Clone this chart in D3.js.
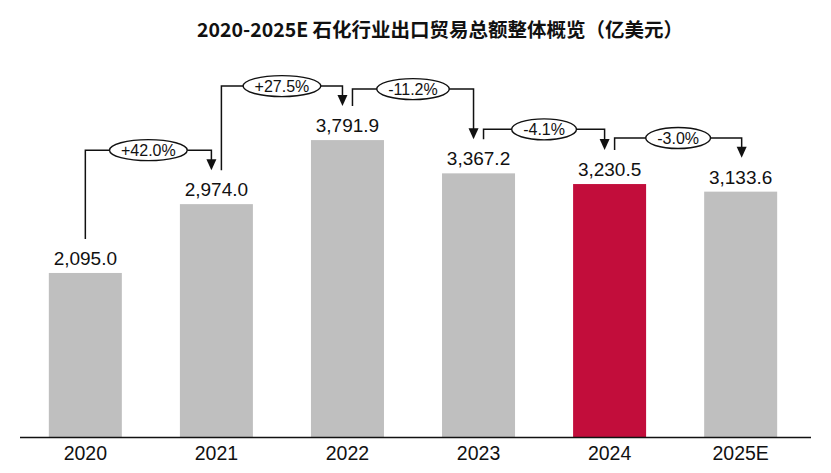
<!DOCTYPE html>
<html>
<head>
<meta charset="utf-8">
<script src="https://cdn.jsdelivr.net/npm/d3@7"></script>
<style>
  html, body { margin: 0; padding: 0; background: #ffffff; }
  svg { display: block; }
</style>
</head>
<body>
<div id="chart"></div>
<script>
// ---- data ----
const categories = ["2020", "2021", "2022", "2023", "2024", "2025E"];
const values = [2095.0, 2974.0, 3791.9, 3367.2, 3230.5, 3133.6];
const growthLabels = ["+42.0%", "+27.5%", "-11.2%", "-4.1%", "-3.0%"];
const highlightCategory = "2024";
const titleText = "2020-2025E 石化行业出口贸易总额整体概览（亿美元）";

// ---- layout ----
const W = 831, H = 473;
const baseY = 437;
const bracketLift = [20, 20, 17, 10, 12];

const svg = d3.select("#chart").append("svg")
  .attr("width", W).attr("height", H);

const x = d3.scaleBand()
  .domain(categories)
  .range([19.8, 806.2])
  .paddingInner(0.443)
  .paddingOuter(0.2215);

const y = d3.scaleLinear()
  .domain([0, 5000])
  .range([baseY, baseY - 5000 * 0.0783]);

// title
svg.append("text")
  .attr("x", 440).attr("y", 37)
  .attr("text-anchor", "middle")
  .attr("font-family", "'Noto Sans CJK SC', 'Noto Sans', sans-serif")
  .attr("font-weight", "bold")
  .attr("font-size", 19.5)
  .attr("fill", "#111")
  .text(titleText);

// bars
svg.selectAll("rect.bar")
  .data(categories)
  .enter().append("rect")
  .attr("class", "bar")
  .attr("x", d => x(d))
  .attr("width", x.bandwidth())
  .attr("y", (d, i) => y(values[i]))
  .attr("height", (d, i) => baseY - y(values[i]))
  .attr("fill", d => d === highlightCategory ? "#C20D3B" : "#BFBFBF");

// value labels
svg.selectAll("text.val")
  .data(categories)
  .enter().append("text")
  .attr("class", "val")
  .attr("x", d => x(d) + x.bandwidth() / 2)
  .attr("y", (d, i) => y(values[i]) - 8)
  .attr("text-anchor", "middle")
  .attr("font-family", "'Liberation Sans', Arial, sans-serif")
  .attr("font-size", 19)
  .attr("fill", "#111")
  .text((d, i) => d3.format(",.1f")(values[i]));

// x axis
const axis = svg.append("g")
  .attr("transform", `translate(0,${baseY})`)
  .call(d3.axisBottom(x).tickSize(0).tickPadding(9));
axis.select(".domain").remove();
axis.selectAll("text")
  .attr("font-family", "'Liberation Sans', Arial, sans-serif")
  .attr("font-size", 19.5)
  .attr("fill", "#111");
svg.append("line")
  .attr("x1", 20).attr("x2", 811)
  .attr("y1", baseY + 0.5).attr("y2", baseY + 0.5)
  .attr("stroke", "#111").attr("stroke-width", 1.6);

// growth brackets
const cx = d => x(d) + x.bandwidth() / 2;
const anchor = i => y(values[i]) - 34;
const arrowH = 11, arrowW = 10;

growthLabels.forEach((lab, i) => {
  const g = svg.append("g");
  const a = categories[i], b = categories[i + 1];
  const xOut = i === 0 ? cx(a) : cx(a) + 5;
  const hasNextOut = i + 1 < growthLabels.length;
  const xIn = hasNextOut ? cx(b) - 5 : cx(b) + 1;
  const yStart = anchor(i), yEnd = anchor(i + 1);
  const level = Math.min(yStart, yEnd) - bracketLift[i];
  const mx = (xOut + xIn) / 2;

  g.append("path")
    .attr("d", `M${xOut},${yStart} V${level} H${xIn} V${yEnd - arrowH + 1}`)
    .attr("fill", "none")
    .attr("stroke", "#111")
    .attr("stroke-width", 1.5);
  g.append("path")
    .attr("d", `M${xIn - arrowW / 2},${yEnd - arrowH} L${xIn + arrowW / 2},${yEnd - arrowH} L${xIn},${yEnd} Z`)
    .attr("fill", "#111");

  const ell = g.append("ellipse")
    .attr("cx", mx).attr("cy", level)
    .attr("ry", 10.5)
    .attr("fill", "#fff")
    .attr("stroke", "#111")
    .attr("stroke-width", 1.4);
  const t = g.append("text")
    .attr("x", mx).attr("y", level + 5.8)
    .attr("text-anchor", "middle")
    .attr("font-family", "'Liberation Sans', Arial, sans-serif")
    .attr("font-size", 16)
    .attr("fill", "#111")
    .text(lab);
  const tw = t.node().getComputedTextLength();
  ell.attr("rx", tw / 2 + 11.5);
});
</script>
</body>
</html>
